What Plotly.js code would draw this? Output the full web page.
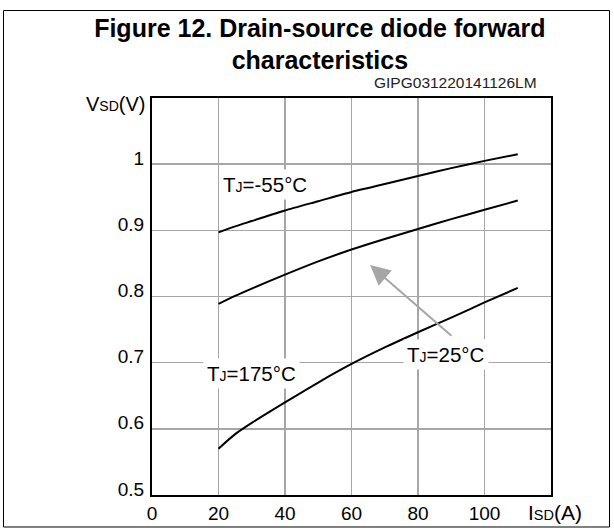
<!DOCTYPE html>
<html>
<head>
<meta charset="utf-8">
<script src="https://cdn.plot.ly/plotly-3.0.1.min.js"></script>
<style>html,body{margin:0;padding:0;background:#fff;}#chart{width:614px;height:528px;}</style>
</head>
<body>
<div id="chart"></div>
<script>
// Data
const isd = [20, 25, 30, 40, 50, 60, 70, 80, 90, 100, 110];
const vsdMinus55 = [0.897, 0.906, 0.914, 0.930, 0.944, 0.958, 0.970, 0.982, 0.994, 1.005, 1.015];
const vsd25 = [0.789, 0.801, 0.812, 0.833, 0.853, 0.871, 0.887, 0.902, 0.917, 0.931, 0.945];
const vsd175 = [0.570, 0.592, 0.609, 0.640, 0.670, 0.698, 0.723, 0.746, 0.768, 0.791, 0.813];
const xTickVals = [0, 20, 40, 60, 80, 100];
const xTickText = ["0", "20", "40", "60", "80", "100"];
const yTickVals = [0.5, 0.6, 0.7, 0.8, 0.9, 1.0];
const yTickText = ["0.5", "0.6", "0.7", "0.8", "0.9", "1"];
const seriesNames = ["TJ=-55°C", "TJ=25°C", "TJ=175°C"];

const FONT = "Arial, 'Liberation Sans', sans-serif";
const sub = (s, size) => '<span style="font-size:' + size + 'px">' + s + '</span>';

const lineStyle = {color: "#000000", width: 2, shape: "spline", smoothing: 0.6};
const traces = [
  {x: isd, y: vsdMinus55, name: seriesNames[0], mode: "lines", line: lineStyle, hoverinfo: "x+y"},
  {x: isd, y: vsd25, name: seriesNames[1], mode: "lines", line: lineStyle, hoverinfo: "x+y"},
  {x: isd, y: vsd175, name: seriesNames[2], mode: "lines", line: lineStyle, hoverinfo: "x+y"}
];

const labelFont = {family: FONT, size: 20.5, color: "#000"};
const layout = {
  width: 614, height: 528,
  margin: {l: 152, r: 63, t: 98, b: 33, pad: 0},
  paper_bgcolor: "#ffffff", plot_bgcolor: "#ffffff",
  showlegend: false,
  font: {family: FONT, color: "#000"},
  title: {
    text: "Figure 12. Drain-source diode forward<br>characteristics",
    font: {family: FONT, size: 25, weight: "bold", color: "#000"},
    x: 0.521, xref: "container", xanchor: "center",
    y: 0.93, yref: "container", yanchor: "top"
  },
  xaxis: {
    range: [0, 120], tickmode: "array", tickvals: xTickVals, ticktext: xTickText,
    showgrid: true, gridcolor: "#a6a6a6", gridwidth: 1.6,
    zeroline: false, showline: true, linecolor: "#000", linewidth: 2, mirror: true,
    ticks: "", ticklabelstandoff: 0,
    tickfont: {family: FONT, size: 19, color: "#000"}, fixedrange: true
  },
  yaxis: {
    range: [0.5, 1.1], tickmode: "array", tickvals: yTickVals, ticktext: yTickText,
    showgrid: true, gridcolor: "#a6a6a6", gridwidth: 1.6,
    zeroline: false, showline: true, linecolor: "#000", linewidth: 2, mirror: true,
    ticks: "", ticklabelstandoff: 2, ticklabelshift: -6,
    tickfont: {family: FONT, size: 19, color: "#000"}, fixedrange: true
  },
  shapes: [
    {type: "rect", xref: "paper", yref: "paper", x0: -0.3722, x1: 1.1466, y0: -0.0806, y1: 1.2204,
     line: {color: "#000", width: 1}, fillcolor: "rgba(0,0,0,0)", layer: "below"}
  ],
  annotations: [
    {xref: "x", yref: "y", x: 34.0, y: 0.970, text: "T" + sub("J", 14) + "=-55°C", showarrow: false,
     font: labelFont, bgcolor: "#ffffff", borderpad: 3, xanchor: "center", yanchor: "middle"},
    {xref: "x", yref: "y", x: 29.8, y: 0.684, text: "T" + sub("J", 14) + "=175°C", showarrow: false,
     font: labelFont, bgcolor: "#ffffff", borderpad: 3, xanchor: "center", yanchor: "middle"},
    {xref: "x", yref: "y", x: 65.6, y: 0.8476, ax: 90.5, ay: 0.7388, axref: "x", ayref: "y",
     text: "", showarrow: true, arrowhead: 2, arrowsize: 2, arrowwidth: 2, arrowcolor: "#a6a6a6"},
    {xref: "x", yref: "y", x: 88.4, y: 0.713, text: "T" + sub("J", 14) + "=25°C", showarrow: false,
     font: labelFont, bgcolor: "#ffffff", borderpad: 3, xanchor: "center", yanchor: "middle"},
    {xref: "paper", yref: "paper", x: (539 - 152) / 399, y: (495 - 82) / 397, text: "GIPG031220141126LM",
     showarrow: false, font: {family: FONT, size: 15.5, color: "#222"}, xanchor: "right", yanchor: "middle"},
    {xref: "paper", yref: "paper", x: (147 - 152) / 399, y: (495 - 104) / 397, text: "V" + sub("SD", 14) + "(V)",
     showarrow: false, font: {family: FONT, size: 20, color: "#000"}, xanchor: "right", yanchor: "middle"},
    {xref: "paper", yref: "paper", x: (584 - 152) / 399, y: (495 - 512) / 397, text: "I" + sub("SD", 14.5) + "(A)",
     showarrow: false, font: {family: FONT, size: 21, color: "#000"}, xanchor: "right", yanchor: "middle"}
  ]
};

Plotly.newPlot("chart", traces, layout, {displayModeBar: false, staticPlot: true});
</script>
</body>
</html>
